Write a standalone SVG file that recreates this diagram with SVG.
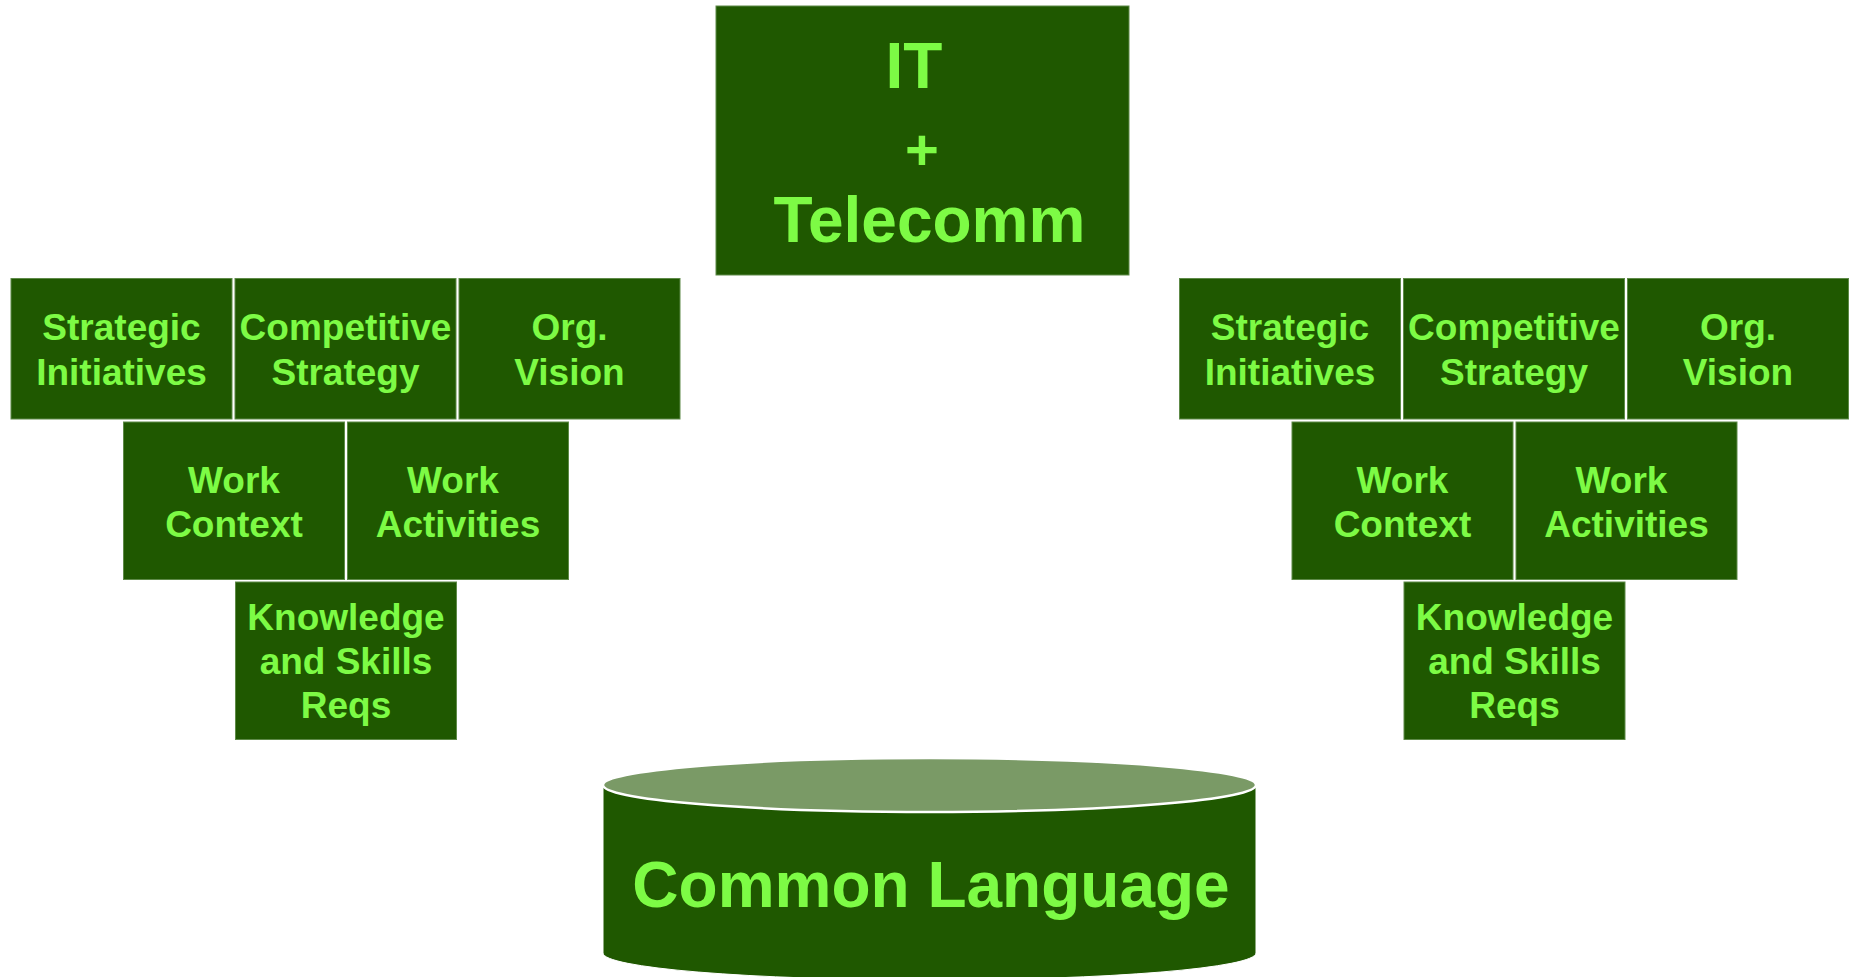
<svg xmlns="http://www.w3.org/2000/svg" width="1850" height="977" viewBox="0 0 1850 977">
<style>
.box{fill:#1F5800;stroke:#5E8A48;stroke-width:1}
.t{font-family:"Liberation Sans",Arial,sans-serif;font-weight:bold;fill:#7DFB45;text-anchor:middle}
.s{font-size:37px}
.b{font-size:64px}
</style>
<rect width="1850" height="977" fill="#FFFFFF"/>
<g id="connectors"></g>
<g id="it-telecomm">
<rect class="box" x="716" y="6" width="413" height="269"/>
<text class="t b" x="914" y="88">IT</text>
<text class="t" x="922" y="170" font-size="58">+</text>
<text class="t b" x="929.5" y="242">Telecomm</text>
</g>
<g id="left-strategic">
<rect class="box" x="11" y="278.5" width="221" height="140.5"/>
<text class="t s" x="121.5" y="340">Strategic</text>
<text class="t s" x="121.5" y="385">Initiatives</text>
</g>
<g id="left-competitive">
<rect class="box" x="235" y="278.5" width="221" height="140.5"/>
<text class="t s" x="345.5" y="340">Competitive</text>
<text class="t s" x="345.5" y="385">Strategy</text>
</g>
<g id="left-org">
<rect class="box" x="459" y="278.5" width="221" height="140.5"/>
<text class="t s" x="569.5" y="340">Org.</text>
<text class="t s" x="569.5" y="385">Vision</text>
</g>
<g id="left-work-context">
<rect class="box" x="123.5" y="422" width="221" height="157.5"/>
<text class="t s" x="234" y="492.5">Work</text>
<text class="t s" x="234" y="536.5">Context</text>
</g>
<g id="left-work-activities">
<rect class="box" x="347.5" y="422" width="221" height="157.5"/>
<text class="t s" x="453" y="492.5">Work</text>
<text class="t s" x="458" y="536.5">Activities</text>
</g>
<g id="left-knowledge">
<rect class="box" x="235.5" y="582" width="221" height="157.5"/>
<text class="t s" x="346" y="630">Knowledge</text>
<text class="t s" x="346" y="674">and Skills</text>
<text class="t s" x="346" y="718">Reqs</text>
</g>
<g id="right-strategic">
<rect class="box" x="1179.5" y="278.5" width="221" height="140.5"/>
<text class="t s" x="1290" y="340">Strategic</text>
<text class="t s" x="1290" y="385">Initiatives</text>
</g>
<g id="right-competitive">
<rect class="box" x="1403.5" y="278.5" width="221" height="140.5"/>
<text class="t s" x="1514" y="340">Competitive</text>
<text class="t s" x="1514" y="385">Strategy</text>
</g>
<g id="right-org">
<rect class="box" x="1627.5" y="278.5" width="221" height="140.5"/>
<text class="t s" x="1738" y="340">Org.</text>
<text class="t s" x="1738" y="385">Vision</text>
</g>
<g id="right-work-context">
<rect class="box" x="1292" y="422" width="221" height="157.5"/>
<text class="t s" x="1402.5" y="492.5">Work</text>
<text class="t s" x="1402.5" y="536.5">Context</text>
</g>
<g id="right-work-activities">
<rect class="box" x="1516" y="422" width="221" height="157.5"/>
<text class="t s" x="1621.5" y="492.5">Work</text>
<text class="t s" x="1626.5" y="536.5">Activities</text>
</g>
<g id="right-knowledge">
<rect class="box" x="1404" y="582" width="221" height="157.5"/>
<text class="t s" x="1514.5" y="630">Knowledge</text>
<text class="t s" x="1514.5" y="674">and Skills</text>
<text class="t s" x="1514.5" y="718">Reqs</text>
</g>
<g id="common-language">
<path d="M603,785 L603,953 A326.5,27 0 0 0 1256,953 L1256,785 Z" fill="#1F5800" stroke="#FFFFFF" stroke-width="1"/>
<ellipse cx="929.5" cy="785" rx="326.5" ry="27" fill="#7A9A66" stroke="#FFFFFF" stroke-width="2.5"/>
<text class="t b" x="931" y="907">Common Language</text>
</g>
</svg>
